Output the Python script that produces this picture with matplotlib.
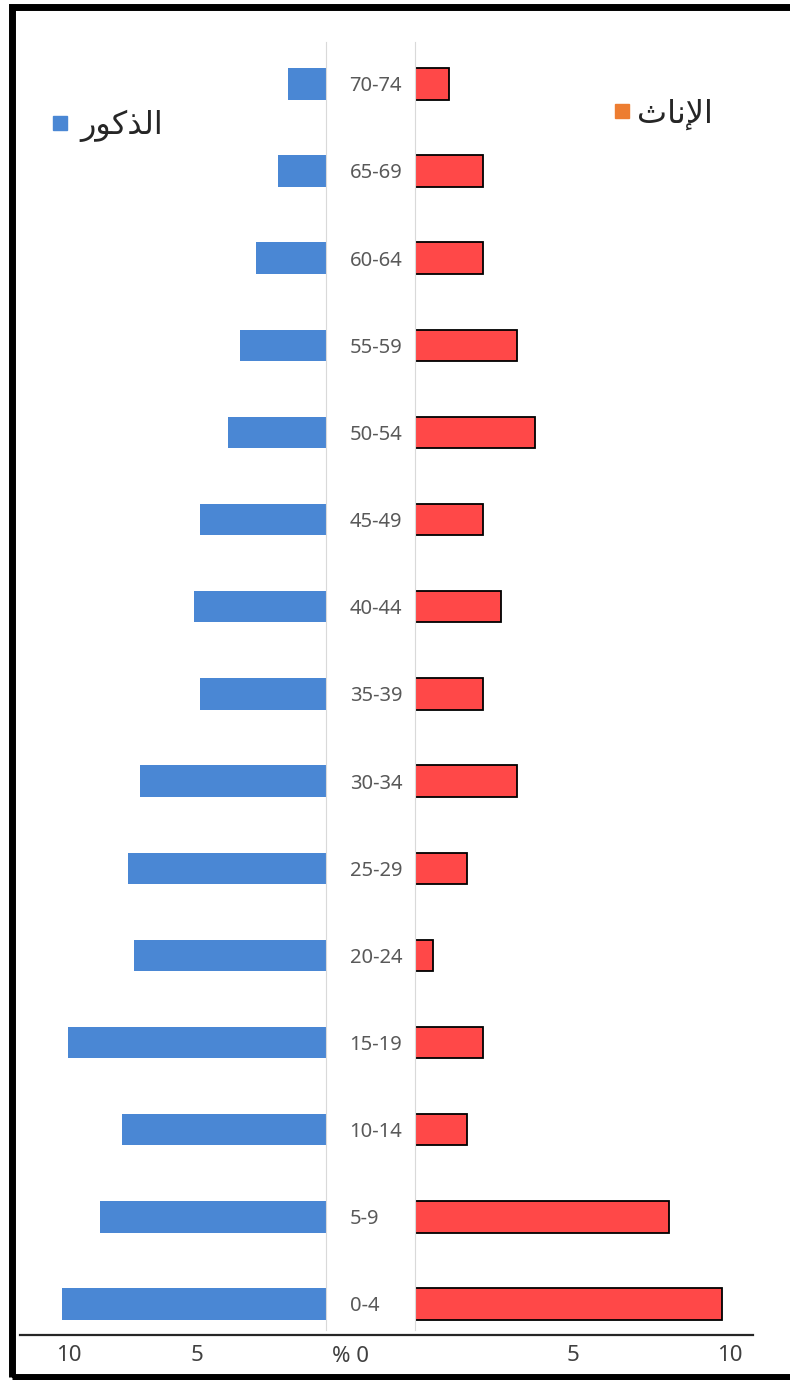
import matplotlib.pyplot as plt
from matplotlib.patches import Patch, Rectangle
from matplotlib.lines import Line2D

# age groups, bottom to top
ages = ["0-4", "5-9", "10-14", "15-19", "20-24", "25-29", "30-34", "35-39",
        "40-44", "45-49", "50-54", "55-59", "60-64", "65-69", "70-74"]
males = [10.27, 8.79, 7.94, 10.04, 7.47, 7.70, 7.24, 4.90,
         5.14, 4.90, 3.81, 3.35, 2.72, 1.87, 1.48]
females = [9.75, 8.06, 1.65, 2.16, 0.57, 1.65, 3.24, 2.16,
           2.73, 2.16, 3.81, 3.24, 2.16, 2.16, 1.08]
left_ticks = [10, 5]
right_ticks = [5, 10]

# Arabic labels written in presentation forms (visual order) so they render joined
label_male = "\uFEAD\uFEEE\uFEDB\uFEAC\uFEDF\uFE8D"    # الذكور
label_female = "\uFE99\uFE8E\uFEE7\uFEF9\uFE8D"        # الإناث

blue = "#4A87D4"
red = "#FF4848"
grid_gray = "#D9D9D9"
text_gray = "#404040"

W, H = 790, 1380
fig = plt.figure(figsize=(W / 100, H / 100), dpi=100)
fig.patch.set_facecolor("white")

y_bot, y_top = 1335, 42
ax_l = fig.add_axes([20 / W, (H - y_bot) / H, (326 - 20) / W, (y_bot - y_top) / H])
ax_r = fig.add_axes([415 / W, (H - y_bot) / H, (753 - 415) / W, (y_bot - y_top) / H])

ypos = list(range(len(ages)))
bar_h = 0.36

ax_l.barh(ypos, males, height=bar_h, color=blue, edgecolor="none")
ax_r.barh(ypos, females, height=bar_h, color=red, edgecolor="black", linewidth=1.3)

ylim = (-0.356, 14.48)
ax_l.set_xlim(11.9, 0)
ax_r.set_xlim(0, 10.73)
for ax in (ax_l, ax_r):
    ax.set_ylim(*ylim)
    for s in ax.spines.values():
        s.set_visible(False)

ax_l.spines["right"].set_visible(True)
ax_l.spines["right"].set_color(grid_gray)
ax_l.spines["right"].set_bounds(ylim[0] + 0.06, ylim[1])
ax_r.spines["left"].set_visible(True)
ax_r.spines["left"].set_color(grid_gray)
ax_r.spines["left"].set_bounds(ylim[0] + 0.06, ylim[1])

# age labels between the two halves
ax_l.yaxis.tick_right()
ax_l.set_yticks(ypos)
ax_l.set_yticklabels(ages, fontsize=14.5, color="#595959", fontfamily="Noto Sans")
ax_l.tick_params(axis="y", length=0, pad=17)
ax_r.set_yticks([])

ax_l.set_xticks(left_ticks)
ax_l.set_xticklabels([str(t) for t in left_ticks])
ax_r.set_xticks(right_ticks)
ax_r.set_xticklabels([str(t) for t in right_ticks])
for ax in (ax_l, ax_r):
    ax.tick_params(axis="x", length=0, pad=7, labelsize=16, labelcolor=text_gray)
    for lbl in ax.get_xticklabels():
        lbl.set_fontfamily("Noto Sans")

fig.text(350 / W, 1 - 1357 / H, "% 0", ha="center", va="center",
         fontsize=16, color=text_gray, fontfamily="Noto Sans")

# baseline across both halves
fig.add_artist(Line2D([20 / W, 753 / W], [1 - y_bot / H] * 2, color="#262626", lw=1.6))

# legends
fig.legend(handles=[Patch(color=blue)], labels=[label_male], loc="center left",
           bbox_to_anchor=(24 / W, 1 - 126 / H), frameon=False,
           handlelength=0.45, handleheight=0.3, handletextpad=0.4,
           prop={"family": "DejaVu Sans", "size": 23}, labelcolor="#262626")
fig.legend(handles=[Patch(color="#ED7D31")], labels=[label_female], loc="center left",
           bbox_to_anchor=(586 / W, 1 - 114 / H), frameon=False,
           handlelength=0.45, handleheight=0.3, handletextpad=0.25,
           prop={"family": "DejaVu Sans", "size": 23}, labelcolor="#262626")

# black frame around the picture (cut on the right side)
fig.add_artist(Rectangle((11.5 / W, 3.5 / H), 1.0, 1 - 10 / H, transform=fig.transFigure,
                         fill=False, edgecolor="black", linewidth=5.0))

fig.savefig("out.png", dpi=100, facecolor="white")
